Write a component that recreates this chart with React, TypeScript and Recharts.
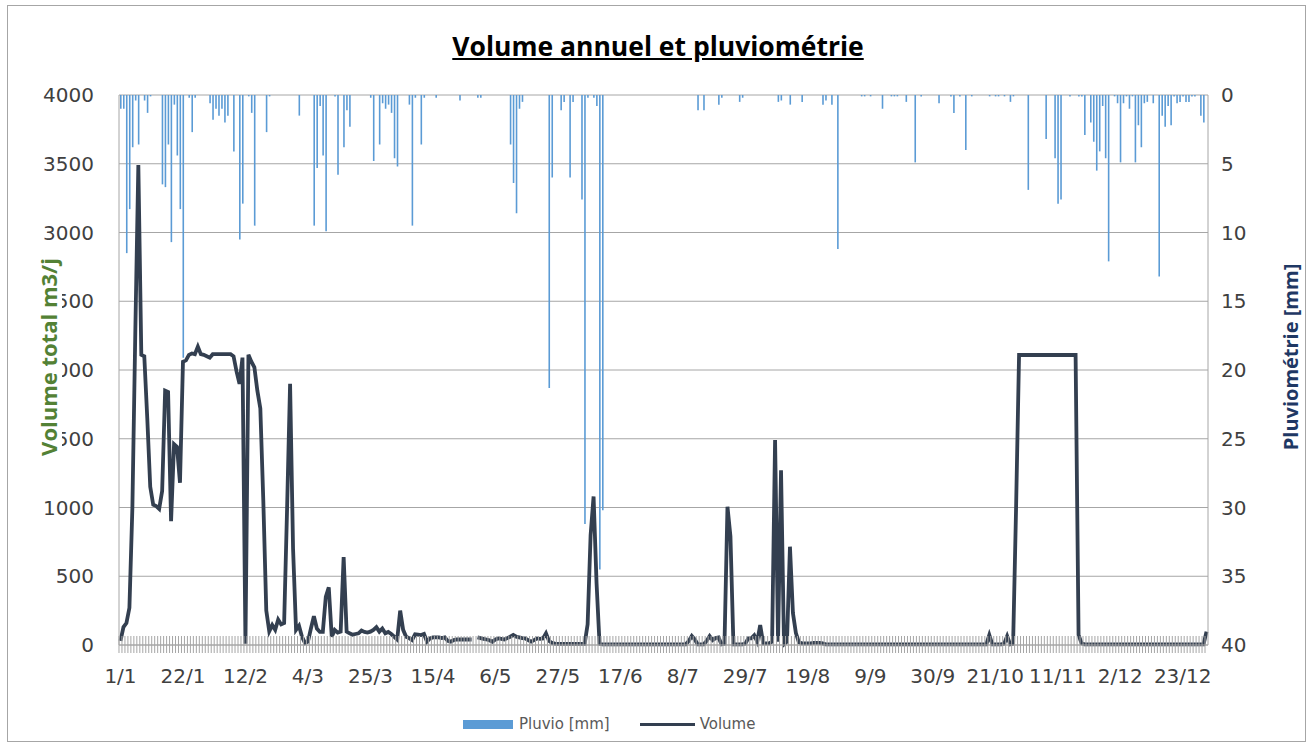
import { ComposedChart, Bar, Line, XAxis, YAxis, CartesianGrid } from "recharts";

// leap year: 366 days
const monthLengths = [31, 29, 31, 30, 31, 30, 31, 31, 30, 31, 30, 31];

// daily volume (m3/j), one array per month
const volJan = [30, 130, 160, 270, 1000, 2300, 3490, 2110, 2100, 1650, 1150, 1020, 1010, 990, 1120, 1850, 1840, 900, 1460, 1440, 1180, 2060, 2070, 2110, 2120, 2115, 2170, 2115, 2110, 2100, 2090];
const volFeb = [2115, 2115, 2115, 2115, 2115, 2115, 2115, 2100, 1990, 1900, 2090, 10, 2110, 2060, 2020, 1850, 1720, 1050, 250, 100, 145, 110, 185, 150, 160, 1000, 1900, 700, 110];
const volMar = [140, 60, 15, 25, 120, 210, 120, 95, 95, 350, 420, 60, 110, 90, 97, 640, 97, 85, 75, 80, 85, 105, 95, 90, 97, 110, 130, 97, 120, 85, 95];
const volApr = [80, 60, 40, 250, 110, 60, 50, 36, 78, 75, 72, 80, 25, 48, 55, 55, 55, 50, 55, 30, 24, 36, 40, 40, 40, 40, 40, 40, null, 55];
const volMay = [50, 45, 40, 35, 24, 40, 48, 45, 40, 50, 60, 73, 60, 55, 50, 48, 35, 24, 35, 48, 45, 48, 85, 30, 15, 10, 8, 8, 8, 8, 8];
const volJun = [8, 8, 8, 8, 8, 150, 800, 1080, 450, 10, 5, 5, 5, 5, 5, 5, 5, 5, 5, 5, 5, 5, 5, 5, 5, 5, 5, 5, 5, 5];
const volJul = [5, 5, 5, 5, 5, 5, 5, 5, 5, 30, 65, 40, 5, 5, 5, 30, 65, 35, 50, 55, 5, 10, 1006, 790, 5, 5, 5, 5, 10, 48, 48];
const volAug = [70, 25, 145, 12, 12, 12, 24, 1490, 24, 1270, 5, 24, 715, 233, 87, 20, 12, 12, 12, 12, 15, 15, 15, 12, 5, 5, 5, 5, 5, 5, 5];
const volSep = [5, 5, 5, 5, 5, 5, 5, 5, 5, 5, 5, 5, 5, 5, 5, 5, 5, 5, 5, 5, 5, 5, 5, 5, 5, 5, 5, 5, 5, 5];
const volOct = [5, 5, 5, 5, 5, 5, 5, 5, 5, 5, 5, 5, 5, 5, 5, 5, 5, 5, 73, 5, 5, 5, 5, 10, 65, 5, 10, 1000, 2109, 2109, 2109];
const volNov = [2109, 2109, 2109, 2109, 2109, 2109, 2109, 2109, 2109, 2109, 2109, 2109, 2109, 2109, 2109, 2109, 2109, 73, 12, 5, 5, 5, 5, 5, 5, 5, 5, 5, 5, 5];
const volDec = [5, 5, 5, 5, 5, 5, 5, 5, 5, 5, 5, 5, 5, 5, 5, 5, 5, 5, 5, 5, 5, 5, 5, 5, 5, 5, 5, 5, 5, 5, 97];

// rainy days: [day of year (0 = 1/1), mm]
const rainEvents: [number, number][] = [
  [0, 1.0], [1, 1.0], [2, 11.5], [3, 8.3], [4, 3.8], [5, 0.4], [6, 3.6], [8, 0.4], [9, 1.3], [10, 0.1],
  [14, 6.5], [15, 6.7], [16, 3.6], [17, 10.7], [18, 0.7], [19, 4.4], [20, 8.3], [21, 19.1], [23, 0.2], [24, 2.7],
  [25, 0.2], [30, 0.6], [31, 1.8], [32, 1.0], [33, 1.5], [34, 1.0], [35, 2.0], [36, 1.5], [38, 4.1], [40, 10.5],
  [41, 7.9], [43, 0.1], [44, 1.3], [45, 9.5], [49, 2.7], [50, 0.1], [60, 1.5], [65, 9.5], [66, 5.3], [67, 0.8],
  [68, 4.4], [69, 9.9], [72, 0.1], [73, 5.8], [75, 3.8], [76, 1.1], [77, 2.3], [84, 0.2], [85, 4.8], [87, 3.6],
  [88, 0.6], [89, 1.0], [90, 0.7], [91, 1.3], [92, 4.6], [93, 5.2], [97, 0.7], [98, 9.5], [99, 0.2], [101, 3.6],
  [102, 0.2], [106, 0.2], [114, 0.4], [120, 0.2], [121, 0.2], [131, 3.6], [132, 6.4], [133, 8.6], [134, 1.0], [135, 0.5],
  [144, 21.3], [145, 6.0], [148, 1.1], [149, 0.5], [151, 6.0], [152, 0.5], [155, 7.6], [156, 31.2], [157, 0.2], [159, 0.2],
  [160, 0.8], [161, 34.5], [162, 30.2], [194, 1.1], [196, 1.1], [201, 0.7], [202, 0.2], [208, 0.5], [209, 0.2], [221, 0.5],
  [222, 0.4], [225, 0.7], [229, 0.5], [236, 0.7], [237, 0.4], [239, 0.7], [241, 11.2], [249, 0.1], [250, 0.1], [252, 0.1],
  [256, 1.0], [259, 0.1], [260, 0.1], [261, 0.1], [264, 0.5], [267, 4.9], [269, 0.1], [275, 0.6], [279, 0.1], [280, 1.3],
  [282, 0.1], [284, 4.0], [286, 0.1], [292, 0.1], [294, 0.1], [295, 0.1], [297, 0.1], [299, 0.5], [300, 0.1], [305, 6.9],
  [311, 3.2], [314, 4.6], [315, 7.9], [316, 7.6], [319, 0.1], [322, 0.1], [323, 0.1], [324, 2.9], [326, 2.0], [327, 3.4],
  [328, 5.5], [329, 4.1], [330, 0.8], [331, 4.6], [332, 12.1], [334, 0.1], [335, 0.6], [336, 4.9], [337, 0.6], [338, 0.1],
  [339, 1.0], [340, 0.1], [341, 4.9], [342, 2.2], [343, 3.8], [344, 0.6], [345, 0.5], [347, 0.6], [349, 13.2], [350, 1.5],
  [351, 2.3], [352, 0.8], [353, 2.2], [354, 0.1], [355, 0.6], [356, 0.5], [357, 0.1], [358, 0.5], [359, 0.5], [360, 0.1],
  [361, 0.1], [363, 1.5], [364, 2.0],
];

const volumeTicks = [0, 500, 1000, 1500, 2000, 2500, 3000, 3500, 4000];
const rainTicks = [0, 5, 10, 15, 20, 25, 30, 35, 40];

const volume = [
  ...volJan, ...volFeb, ...volMar, ...volApr, ...volMay, ...volJun,
  ...volJul, ...volAug, ...volSep, ...volOct, ...volNov, ...volDec,
];

const days: string[] = [];
monthLengths.forEach((n, m) => {
  for (let d = 1; d <= n; d++) days.push(`${d}/${m + 1}`);
});

const rainByDay = new Map(rainEvents);
const data = days.map((label, i) => ({
  label,
  pluvio: rainByDay.get(i) ?? 0,
  volume: volume[i],
}));

const AXIS_FONT = "'DejaVu Sans', sans-serif";
const TITLE_FONT = "'Open Sans', sans-serif";

// one hatch per day, a date label every 21 days
function DayTick(props: any) {
  const { x, y, index, payload } = props;
  return (
    <g>
      <line x1={x - 1.5} x2={x - 1.5} y1={y - 9} y2={y + 8} stroke="#a6a6a6" />
      {index % 21 === 0 && (
        <text x={x} y={y + 38} textAnchor="middle" fontSize={20} fill="#404040" fontFamily={AXIS_FONT}>
          {payload.value}
        </text>
      )}
    </g>
  );
}

const rainTitle = () => {
  const cx = 1290;
  const cy = 357;
  return (
    <text
      x={cx}
      y={cy}
      transform={`rotate(-90 ${cx} ${cy})`}
      textAnchor="middle"
      dominantBaseline="central"
      fontSize={20}
      fontWeight="bold"
      fill="#1f3864"
      fontFamily={TITLE_FONT}
    >
      Pluviométrie [mm]
    </text>
  );
};

export default function App() {
  return (
    <div style={{ position: "absolute", left: 0, top: 0, width: 1308, height: 744, background: "#fff" }}>
      <div
        style={{
          position: "absolute",
          left: 7,
          top: 5,
          width: 1297,
          height: 735,
          border: "1px solid #a6a6a6",
        }}
      />
      <div
        style={{
          position: "absolute",
          left: 4,
          width: 1308,
          top: 33,
          textAlign: "center",
          fontFamily: TITLE_FONT,
          fontWeight: "bold",
          fontSize: 26.5,
          lineHeight: "27px",
          textDecoration: "underline",
          color: "#000",
        }}
      >
        Volume annuel et pluviométrie
      </div>
      <div style={{ position: "absolute", left: 0, top: 0 }}>
        <ComposedChart width={1308} height={744} data={data} margin={{ top: 95, right: 0, bottom: 39, left: 0 }}>
          <CartesianGrid vertical={false} stroke="#a6a6a6" />
          <XAxis
            dataKey="label"
            interval={0}
            height={60}
            tickSize={0}
            tickMargin={0}
            tickLine={false}
            axisLine={{ stroke: "#a6a6a6" }}
            tick={DayTick}
          />
          <YAxis
            domain={[0, 4000]}
            ticks={volumeTicks}
            interval={0}
            width={119}
            tickSize={0}
            tickMargin={25}
            tickLine={false}
            axisLine={{ stroke: "#a6a6a6" }}
            tick={{ fontSize: 20, fill: "#404040", fontFamily: AXIS_FONT }}
          />
          <YAxis
            yAxisId="rain"
            orientation="right"
            reversed
            domain={[0, 40]}
            ticks={rainTicks}
            interval={0}
            width={100}
            tickSize={0}
            tickMargin={13}
            tickLine={false}
            axisLine={{ stroke: "#a6a6a6" }}
            tick={{ fontSize: 20, fill: "#404040", fontFamily: AXIS_FONT, textAnchor: "start" }}
            label={rainTitle}
          />
          <Bar yAxisId="rain" dataKey="pluvio" name="Pluvio [mm]" fill="#5b9bd5" barSize={1.6} isAnimationActive={false} />
          <Line
            dataKey="volume"
            name="Volume"
            type="linear"
            stroke="#333f50"
            strokeWidth={3.8}
            dot={false}
            activeDot={false}
            connectNulls={false}
            isAnimationActive={false}
          />
        </ComposedChart>
      </div>
      {/* left axis title sits on an opaque box that hides part of the tick labels, as in the original */}
      <svg
        width={1308}
        height={744}
        style={{ position: "absolute", left: 0, top: 0, pointerEvents: "none" }}
      >
        <rect x={32} y={246} width={30} height={222} fill="#fff" />
        <text
          x={48}
          y={357}
          transform="rotate(-90 48 357)"
          textAnchor="middle"
          dominantBaseline="central"
          fontSize={22}
          fontWeight="bold"
          fill="#538135"
          fontFamily={TITLE_FONT}
        >
          Volume total m3/j
        </text>
      </svg>
      <div
        style={{
          position: "absolute",
          top: 714,
          left: 463,
          display: "flex",
          alignItems: "center",
          fontFamily: AXIS_FONT,
          fontSize: 15,
          color: "#595959",
          height: 20,
          whiteSpace: "nowrap",
        }}
      >
        <span style={{ display: "inline-block", width: 50, height: 9, background: "#5b9bd5", marginRight: 6 }} />
        <span style={{ marginRight: 30 }}>Pluvio [mm]</span>
        <span style={{ display: "inline-block", width: 55, height: 3, background: "#333f50", marginRight: 5 }} />
        <span>Volume</span>
      </div>
    </div>
  );
}
